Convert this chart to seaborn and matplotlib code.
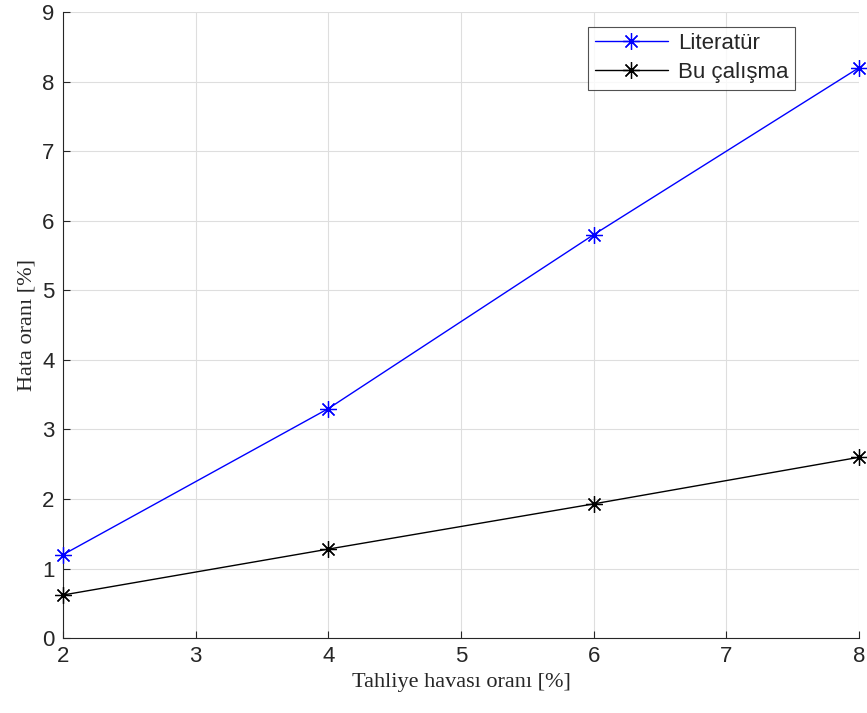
import matplotlib
matplotlib.use("Agg")
import matplotlib.pyplot as plt
import seaborn as sns
import pandas as pd

x_vals = [2, 4, 6, 8]
literatur = [1.2, 3.3, 5.8, 8.2]
bu_calisma = [0.62, 1.28, 1.93, 2.60]
series_names = ["Literatür", "Bu çalışma"]
colors = ["#0000ff", "#000000"]

df = pd.DataFrame({
    "x": x_vals * 2,
    "y": literatur + bu_calisma,
    "series": [series_names[0]] * 4 + [series_names[1]] * 4,
})

sns.set_theme(style="white")
plt.rcParams["font.family"] = ["Liberation Sans", "DejaVu Sans"]

fig = plt.figure(figsize=(8.67, 7.13), dpi=100)
ax = fig.add_axes([0.0727, 0.105, 0.918, 0.878])

sns.lineplot(data=df, x="x", y="y", hue="series", palette=colors,
             marker=(8, 2, 0), markersize=12, markeredgewidth=0.9,
             linewidth=1.0, ax=ax, legend=False)

for line, c in zip(ax.lines, colors):
    line.set_markeredgecolor(c)
    line.set_markerfacecolor(c)
    line.set_clip_on(False)
    line.set_zorder(5)

ax.set_xlim(2, 8)
ax.set_ylim(0, 9)
ax.set_xticks(range(2, 9))
ax.set_yticks(range(0, 10))
ax.grid(True, color="#dedede", linewidth=0.8)
ax.set_axisbelow(True)
for s in ["top", "right"]:
    ax.spines[s].set_visible(False)
for s in ["left", "bottom"]:
    ax.spines[s].set_color("#262626")
    ax.spines[s].set_linewidth(0.8)
ax.tick_params(axis="both", labelsize=16, colors="#262626", direction="in",
               length=5, width=0.8, bottom=True, left=True, pad=6)

ax.set_xlabel("Tahliye havası oranı [%]", fontsize=16, family="Liberation Serif",
              color="#262626", labelpad=4)
ax.set_ylabel("Hata oranı [%]", fontsize=16, family="Liberation Serif",
              color="#262626", labelpad=4)

leg = ax.legend(ax.lines[:2], series_names, loc="upper right",
                bbox_to_anchor=(0.92, 0.977), fontsize=16,
                frameon=True, fancybox=False, edgecolor="#262626",
                handlelength=3.3, borderpad=0.3, labelspacing=0.35,
                handletextpad=0.45, borderaxespad=0)
leg.get_frame().set_linewidth(0.8)
leg.set_zorder(10)

fig.savefig("out.png", dpi=100)
